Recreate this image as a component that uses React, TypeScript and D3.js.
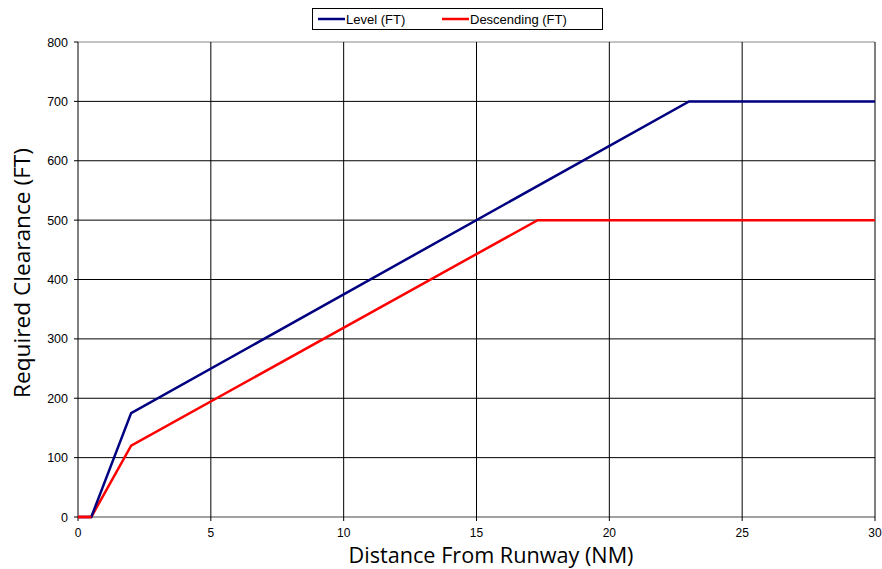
import React from "react";
import * as d3 from "d3";

const levelX = [0, 0.5, 2, 23, 30];
const levelY = [0, 0, 175, 700, 700];
const descX = [0, 0.5, 2, 17.3, 30];
const descY = [0, 0, 120, 500, 500];
const xTicks = [0, 5, 10, 15, 20, 25, 30];
const yTicks = [0, 100, 200, 300, 400, 500, 600, 700, 800];
const seriesNames = ["Level (FT)", "Descending (FT)"];

export default function App() {
  const W = 882, H = 569;
  const x = d3.scaleLinear().domain([0, 30]).range([78, 875]);
  const y = d3.scaleLinear().domain([0, 800]).range([517, 42]);
  const line = d3.line<[number, number]>().x(d => x(d[0])).y(d => y(d[1]));
  const lvl = levelX.map((v, i) => [v, levelY[i]] as [number, number]);
  const dsc = descX.map((v, i) => [v, descY[i]] as [number, number]);
  const font = "Arial, 'Liberation Sans', sans-serif";
  return (
    <svg width={W} height={H} style={{ position: "absolute", left: 0, top: 0, background: "#fff" }}>
      {yTicks.map(t => (
        <g key={"y" + t}>
          <line x1={x(0)} x2={x(30)} y1={y(t)} y2={y(t)} stroke={t === 800 ? "#888" : t === 0 ? "#444" : "#000"} strokeWidth={1} />
          <line x1={x(0) - 4} x2={x(0)} y1={y(t)} y2={y(t)} stroke="#000" />
          <text x={68} y={y(t) + 4.5} textAnchor="end" fontFamily={font} fontSize={12.5} fill="#000">{t}</text>
        </g>
      ))}
      {xTicks.map(t => (
        <g key={"x" + t}>
          <line x1={x(t)} x2={x(t)} y1={y(800)} y2={y(0) + 4} stroke="#000" strokeWidth={1} />
          <text x={x(t)} y={536.5} textAnchor="middle" fontFamily={font} fontSize={12} fill="#000">{t}</text>
        </g>
      ))}
      <path d={line(dsc) || ""} fill="none" stroke="#ff0000" strokeWidth={2.5} />
      <path d={line(lvl) || ""} fill="none" stroke="#000080" strokeWidth={2.5} />
      <path d={line(dsc.slice(0, 2)) || ""} fill="none" stroke="#ff0000" strokeWidth={2.5} />
      <text x={491} y={563} textAnchor="middle" fontFamily="'Open Sans', sans-serif" fontSize={21} textLength={285} lengthAdjust="spacingAndGlyphs" fill="#000">Distance From Runway (NM)</text>
      <text transform="translate(30,273) rotate(-90)" textAnchor="middle" fontFamily="'Open Sans', sans-serif" fontSize={22} textLength={250} lengthAdjust="spacingAndGlyphs" fill="#000">Required  Clearance (FT)</text>
      <rect x={312.5} y={8.5} width={290} height={21} fill="#fff" stroke="#000" />
      <line x1={318} x2={345} y1={19} y2={19} stroke="#000080" strokeWidth={2.5} />
      <text x={346} y={23.5} fontFamily={font} fontSize={13} fill="#000">{seriesNames[0]}</text>
      <line x1={442} x2={469} y1={19} y2={19} stroke="#ff0000" strokeWidth={2.5} />
      <text x={470} y={23.5} fontFamily={font} fontSize={13} fill="#000">{seriesNames[1]}</text>
    </svg>
  );
}
